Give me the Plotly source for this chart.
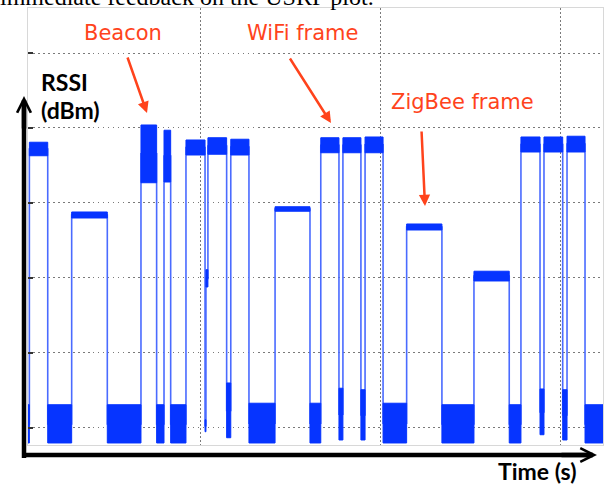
import plotly.graph_objects as go

# ---- data (time in s, RSSI in dBm) ----
time_edges = [0.044, 0.052, 0.154, 0.287, 0.485, 0.672, 0.759, 0.800, 0.837, 0.922,
              1.028, 1.033, 1.044, 1.148, 1.171, 1.272, 1.417, 1.611, 1.671, 1.772,
              1.794, 1.894, 1.917, 2.017, 2.148, 2.344, 2.522, 2.718, 2.783, 2.889,
              2.911, 3.015, 3.039, 3.139, 3.239]
seg_low = [-92.0, -53.7, -92.0, -62.0, -92.0, -57.3, -92.0, -57.2, -92.0, -53.6,
           -90.5, -71.2, -53.5, -91.3, -53.6, -92.0, -61.1, -92.0, -53.3, -91.6,
           -53.3, -91.6, -53.3, -92.0, -63.6, -92.0, -70.4, -92.0, -53.2, -90.9,
           -53.2, -91.6, -53.2, -92.0]
seg_high = [-86.9, -51.9, -86.9, -61.2, -86.9, -49.6, -86.9, -50.3, -86.9, -51.6,
            -88.9, -68.9, -51.3, -84.0, -51.5, -86.7, -60.5, -86.7, -51.3, -84.7,
            -51.3, -84.9, -51.2, -86.7, -62.8, -86.9, -69.1, -86.9, -51.2, -84.8,
            -51.2, -84.9, -51.1, -86.9]

x_grid = [1, 2, 3]
y_grid = [-90, -80, -70, -60, -50, -40]
x_range = [0.0444, 3.2389]
y_range = [-92.27, -34.0]

# ---- build traces ----
bx, by, lx, ly = [], [], [], []
for i in range(len(seg_low)):
    x0, x1 = time_edges[i], time_edges[i + 1]
    lo, hi = seg_low[i], seg_high[i]
    bx += [x0, x1, x1, x0, x0, None]
    by += [lo, lo, hi, hi, lo, None]
    mid = (lo + hi) / 2
    lx += [x0, x1]
    ly += [mid, mid]

BLUE = "#0634ff"
ORANGE = "#ff431c"

fig = go.Figure()
fig.add_trace(go.Scatter(x=lx, y=ly, mode="lines",
                         line=dict(color="#4a6bff", width=1.6), hoverinfo="skip"))
fig.add_trace(go.Scatter(x=bx, y=by, mode="lines", fill="toself", fillcolor=BLUE,
                         line=dict(color=BLUE, width=1), hoverinfo="skip"))

L, R, T, B = 28, 603, 8, 445
W, H = R - L, B - T


def pp(px, py):
    return (px - L) / W, (B - py) / H


ann = []


def text(s, px, py, size, color, family, xanchor="center"):
    x, y = pp(px, py)
    ann.append(dict(text=s, x=x, y=y, xref="paper", yref="paper", showarrow=False,
                    xanchor=xanchor, yanchor="middle",
                    font=dict(size=size, color=color, family=family)))


def arrow(tip, tail, color, width, head, size):
    x, y = pp(*tip)
    ann.append(dict(text="", x=x, y=y, xref="paper", yref="paper", showarrow=True,
                    ax=tail[0] - tip[0], ay=tail[1] - tip[1], arrowcolor=color,
                    arrowwidth=width, arrowhead=head, arrowsize=size, standoff=0))


text("immediate feedback on the USRP plot.", -2, -3, 24, "black", "Liberation Serif", "left")
text("Beacon", 123, 33, 21, ORANGE, "DejaVu Sans")
text("WiFi frame", 302, 33, 21, ORANGE, "DejaVu Sans")
text("ZigBee frame", 462, 102, 21, ORANGE, "DejaVu Sans")
text("<b>RSSI</b>", 39, 82, 23, "black", "Lato", "left")
text("<b>(dBm)</b>", 39, 110, 23, "black", "Lato", "left")
text("<b>Time (s)</b>", 496, 471, 23, "black", "Lato", "left")

arrow((147, 113), (127, 56), ORANGE, 2.5, 2, 0.9)
arrow((331, 123), (289, 57), ORANGE, 2.5, 2, 0.9)
arrow((425, 206), (421.5, 130), ORANGE, 2.5, 2, 0.9)

# axis arrowheads
arrow((24, 96), (24, 130), "black", 4.5, 5, 0.6)
arrow((597, 455), (560, 455), "black", 4.5, 5, 0.6)

shapes = []
x0, y0 = pp(24, 458)
x1, y1 = pp(24, 100)
shapes.append(dict(type="line", xref="paper", yref="paper", x0=x0, y0=y0, x1=x1, y1=y1,
                   line=dict(color="black", width=4.5)))
x0, y0 = pp(22, 455)
x1, y1 = pp(593, 455)
shapes.append(dict(type="line", xref="paper", yref="paper", x0=x0, y0=y0, x1=x1, y1=y1,
                   line=dict(color="black", width=4.5)))

fig.update_layout(
    width=605, height=484,
    margin=dict(l=L, r=605 - R, t=T, b=484 - B, pad=0),
    plot_bgcolor="white", paper_bgcolor="white",
    showlegend=False,
    annotations=ann, shapes=shapes,
    xaxis=dict(range=x_range, tickvals=x_grid, showticklabels=False, showgrid=True,
               gridcolor="#7a7a7a", griddash="1.5px,2.5px", gridwidth=1,
               showline=True, mirror=True, linecolor="#d8d8d8", linewidth=1,
               zeroline=False, ticks=""),
    yaxis=dict(range=y_range, tickvals=y_grid, showticklabels=False, showgrid=True,
               gridcolor="#7a7a7a", griddash="1.5px,3.5px", gridwidth=1,
               showline=True, mirror=True, linecolor="#d8d8d8", linewidth=1,
               zeroline=False, ticks="inside", ticklen=5, tickwidth=1.5,
               tickcolor="#333333"),
)

fig.write_html("out.html",
               config={"displayModeBar": False},
               post_script="document.body.style.margin='0';"
                           "document.body.style.overflow='hidden';")
